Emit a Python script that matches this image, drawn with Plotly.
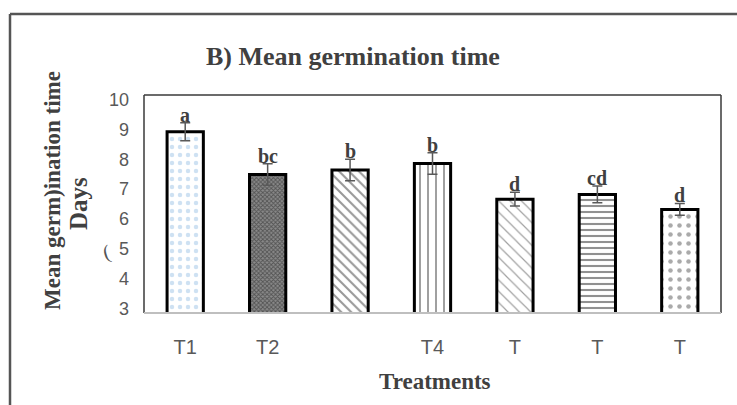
import plotly.graph_objects as go

categories = ["T1", "T2", "T3", "T4", "T5", "T6", "T7"]
tick_labels = ["T1", "T2", "", "T4", "T", "T", "T"]
mean_days = [8.92, 7.49, 7.64, 7.86, 6.66, 6.82, 6.32]
std_err = [0.30, 0.36, 0.36, 0.36, 0.23, 0.28, 0.20]
letters = ["a", "bc", "b", "b", "d", "cd", "d"]

shapes_ = [".", "x", "\\", "|", "\\", "-", "."]
fg = ["#9dc3e6", "#1a1a1a", "#333333", "#111111", "#444444", "#222222", "#555555"]
bg = ["white", "#8a8a8a", "white", "white", "white", "white", "white"]
psize = [8, 3, 7, 8, 8, 6, 9]
psol = [0.25, 0.5, 0.3, 0.2, 0.15, 0.35, 0.2]

serif = "Liberation Serif"
txt = "#404040"

fig = go.Figure()
fig.add_trace(go.Bar(
    x=categories, y=mean_days,
    marker=dict(
        color="white",
        line=dict(color="black", width=3),
        pattern=dict(shape=shapes_, fgcolor=fg, bgcolor=bg, size=psize,
                     solidity=psol, fillmode="overlay"),
    ),
    error_y=dict(type="data", array=std_err, visible=True,
                 color="#595959", thickness=1.5, width=5),
    width=0.44,
    hoverinfo="skip",
))

for c, v, e, l in zip(categories, mean_days, std_err, letters):
    fig.add_annotation(x=c, y=v + e, text="<b>%s</b>" % l, showarrow=False,
                       xanchor="center", yanchor="bottom", yshift=-5,
                       font=dict(family=serif, size=20, color=txt))

def px(xp):
    return (xp - 144) / 577

def py(yp):
    return (313 - yp) / 218

def label(x, y, text, size, angle=0, color=txt):
    fig.add_annotation(xref="paper", yref="paper", x=px(x), y=py(y),
                       xanchor="center", yanchor="middle",
                       text=text, showarrow=False, textangle=angle,
                       font=dict(family=serif, size=size, color=color))

label(353, 57, "<b>B) Mean germination time</b>", 26)
label(435, 381, "<b>Treatments</b>", 23)
label(52, 191, "<b>Mean germ)ination time</b>", 23, -90)
label(78, 204, "<b>Days</b>", 25, -90)
label(106, 252, "(", 20, -15, "#555555")

line_dark = dict(color="#3a3a3a", width=1.5)
shapes = [
    dict(type="line", xref="paper", yref="paper", x0=0, x1=0, y0=0, y1=1, line=line_dark),
    dict(type="line", xref="paper", yref="paper", x0=0, x1=1, y0=1, y1=1, line=line_dark),
    dict(type="line", xref="paper", yref="paper", x0=1, x1=1, y0=0, y1=1, line=line_dark),
    dict(type="line", xref="paper", yref="paper", x0=0, x1=1, y0=0, y1=0,
         line=dict(color="#bfbfbf", width=2)),
    # outer frame
    dict(type="line", xref="paper", yref="paper", x0=px(10), x1=px(10), y0=py(14), y1=py(410),
         line=dict(color="#555555", width=2.5)),
    dict(type="line", xref="paper", yref="paper", x0=px(10), x1=px(740), y0=py(14), y1=py(14),
         line=dict(color="#555555", width=2.5)),
]

fig.update_layout(
    width=737, height=405,
    margin=dict(l=144, r=16, t=95, b=92),
    plot_bgcolor="white", paper_bgcolor="white",
    showlegend=False,
    shapes=shapes,
    bargap=0.56,
    xaxis=dict(tickmode="array", tickvals=categories, ticktext=tick_labels,
               showline=False, showgrid=False, ticks="",
               ticklabelstandoff=20,
               tickfont=dict(family="Liberation Sans", size=20, color="#595959")),
    yaxis=dict(range=[2.85, 10.15], tickvals=[3, 4, 5, 6, 7, 8, 9, 10],
               showgrid=False, zeroline=False, showline=False, ticks="",
               ticklabelstandoff=14,
               tickfont=dict(family="Liberation Sans", size=18, color="#595959")),
)

fig.write_html("out.html", config={"displayModeBar": False},
               post_script="document.body.style.margin='0px';")
